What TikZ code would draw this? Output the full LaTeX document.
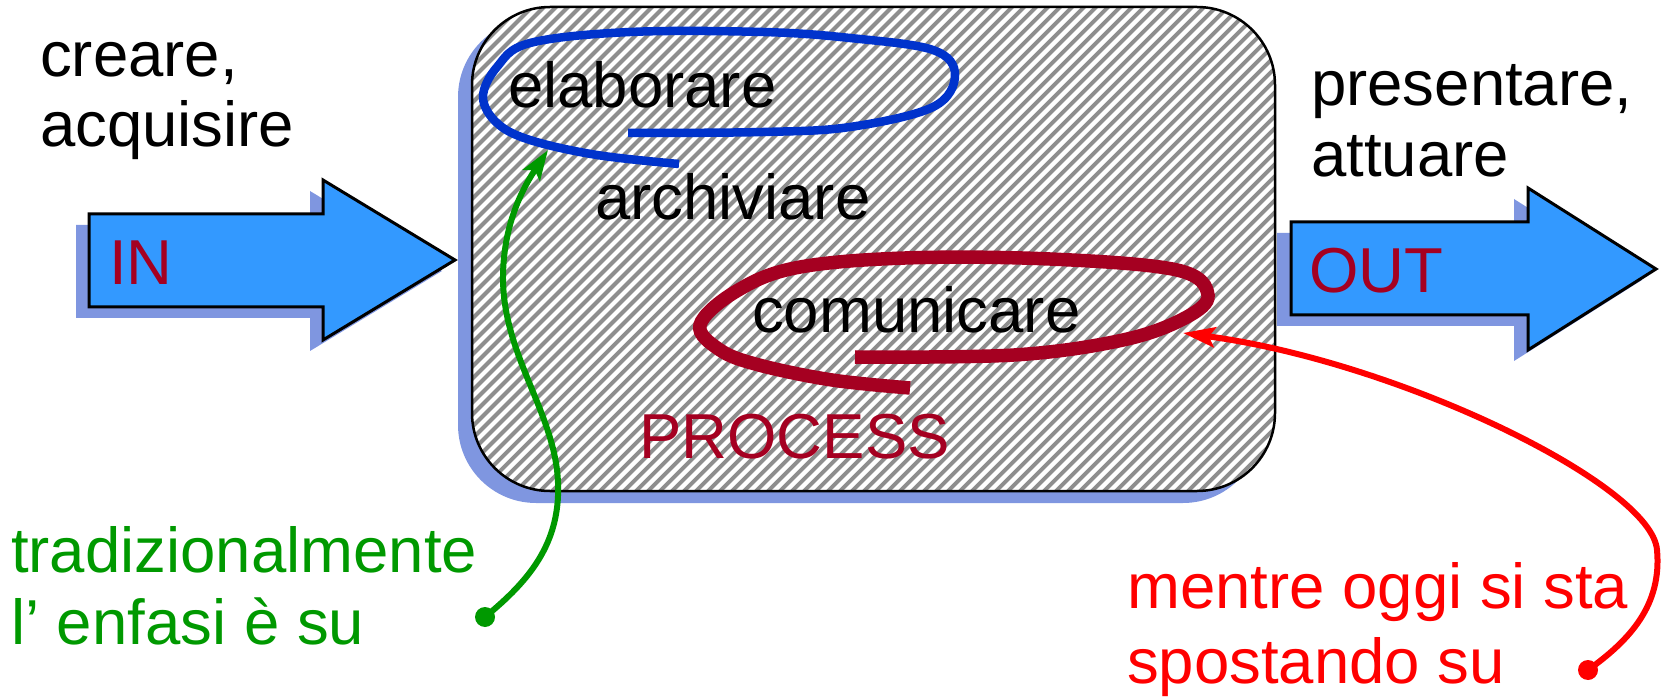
\documentclass[tikz,border=0pt]{standalone}
\usepackage{fontspec}
\setmainfont{Liberation Sans}
\usetikzlibrary{arrows.meta}

\definecolor{shadowblue}{HTML}{7F96E0}
\definecolor{arrowblue}{HTML}{3399FF}
\definecolor{darkred}{HTML}{A50021}
\definecolor{loopblue}{HTML}{0033CC}
\definecolor{leafgreen}{HTML}{009900}
\definecolor{brightred}{HTML}{FF0000}
\definecolor{stripe}{HTML}{8E8E8E}

\tikzset{
  lbl/.style={anchor=base west, inner sep=0pt, font=\fontsize{63.5}{70}\selectfont},
  bigarrow/.style={fill=arrowblue, draw=black, line width=3pt, line join=miter},
}

\begin{document}
\begin{tikzpicture}[x=1pt,y=-1pt]
\useasboundingbox (0,0) rectangle (1662,700);

% process box: shadow, stripes, outline
\fill[shadowblue, rounded corners=78pt] (458,19) rectangle (1261,503);
\begin{scope}
  \clip[rounded corners=78pt] (472,7) rectangle (1275,491);
  \fill[white] (472,7) rectangle (1275,491);
  \foreach \i in {0,...,110}
    \draw[stripe, line width=3.9pt] ({-16+\i*12},495) -- ++(490,-490);
\end{scope}
\draw[black, line width=2.5pt, rounded corners=78pt] (472,7) rectangle (1275,491);

% input arrow
\fill[shadowblue] (76,225) -- (310,225) -- (310,191) -- (442,271) -- (310,351) -- (310,318) -- (76,318) -- cycle;
\draw[bigarrow] (89,214) -- (323,214) -- (323,180) -- (455,260) -- (323,340) -- (323,307) -- (89,307) -- cycle;

% output arrow
\fill[shadowblue] (1277,233) -- (1514,233) -- (1514,199) -- (1642,280) -- (1514,361) -- (1514,326) -- (1277,326) -- cycle;
\draw[bigarrow] (1291,222) -- (1528,222) -- (1528,188) -- (1656,269) -- (1528,350) -- (1528,315) -- (1291,315) -- cycle;

% texts
\node[lbl] (creare) at (40,77) {creare,};
\node[lbl] (acquisire) at (40,147) {acquisire};
\node[lbl] (presentare) at (1311,106) {presentare,};
\node[lbl] (attuare) at (1311,177) {attuare};
\node[lbl, text=darkred] (in) at (109,285) {IN};
\node[lbl, text=darkred] (out) at (1309,293) {OUT};
\node[lbl] (elaborare) at (508,108) {elaborare};
\node[lbl] (archiviare) at (595,220) {archiviare};
\node[lbl] (comunicare) at (752,333) {comunicare};
\node[lbl, text=darkred] (process) at (639,458) {PROCESS};
\node[lbl, text=leafgreen] (trad) at (11,572) {tradizionalmente};
\node[lbl, text=leafgreen] (enfasi) at (11,644) {l’ enfasi è su};
\node[lbl, text=brightred] (mentre) at (1127,608) {mentre oggi si sta};
\node[lbl, text=brightred] (spostando) at (1127,683) {spostando su};

% hand-drawn loops
\draw[loopblue, line width=8.5pt] plot[smooth, tension=0.6] coordinates {
  (628,133) (763,132) (850,127) (933,107) (955,75) (933,50) (850,38)
  (763,32) (630,32) (530,43) (497,67) (483,97) (497,123) (530,140)
  (597,155) (679,164)};
\draw[darkred, line width=13.5pt] plot[smooth, tension=0.6] coordinates {
  (855,357) (1014,355) (1123,340) (1185,318) (1208,295) (1177,270)
  (1050,259) (905,258) (795,268) (735,292) (700,325) (720,350)
  (759,365) (832,380) (910,388)};

% pointers
\coordinate (gdot) at (485,617);
\coordinate (gtip) at (548,150);
\coordinate (rdot) at (1588,670);
\coordinate (rtip) at (1183,333);
\fill[leafgreen] (gdot) circle (10pt);
\draw[leafgreen, line width=6pt, -{Stealth[length=30pt,width=20pt,inset=6pt]}]
  (gdot) .. controls (530,580) and (565,540) .. (557,470)
  .. controls (549,405) and (502,350) .. (503,275)
  .. controls (504,220) and (525,185) .. (gtip);
\fill[brightred] (rdot) circle (10pt);
\draw[brightred, line width=6pt, -{Stealth[length=32pt,width=20pt,inset=6pt]}]
  (rdot) .. controls (1630,640) and (1662,605) .. (1657,550)
  .. controls (1652,485) and (1400,362) .. (rtip);
\end{tikzpicture}
\end{document}
